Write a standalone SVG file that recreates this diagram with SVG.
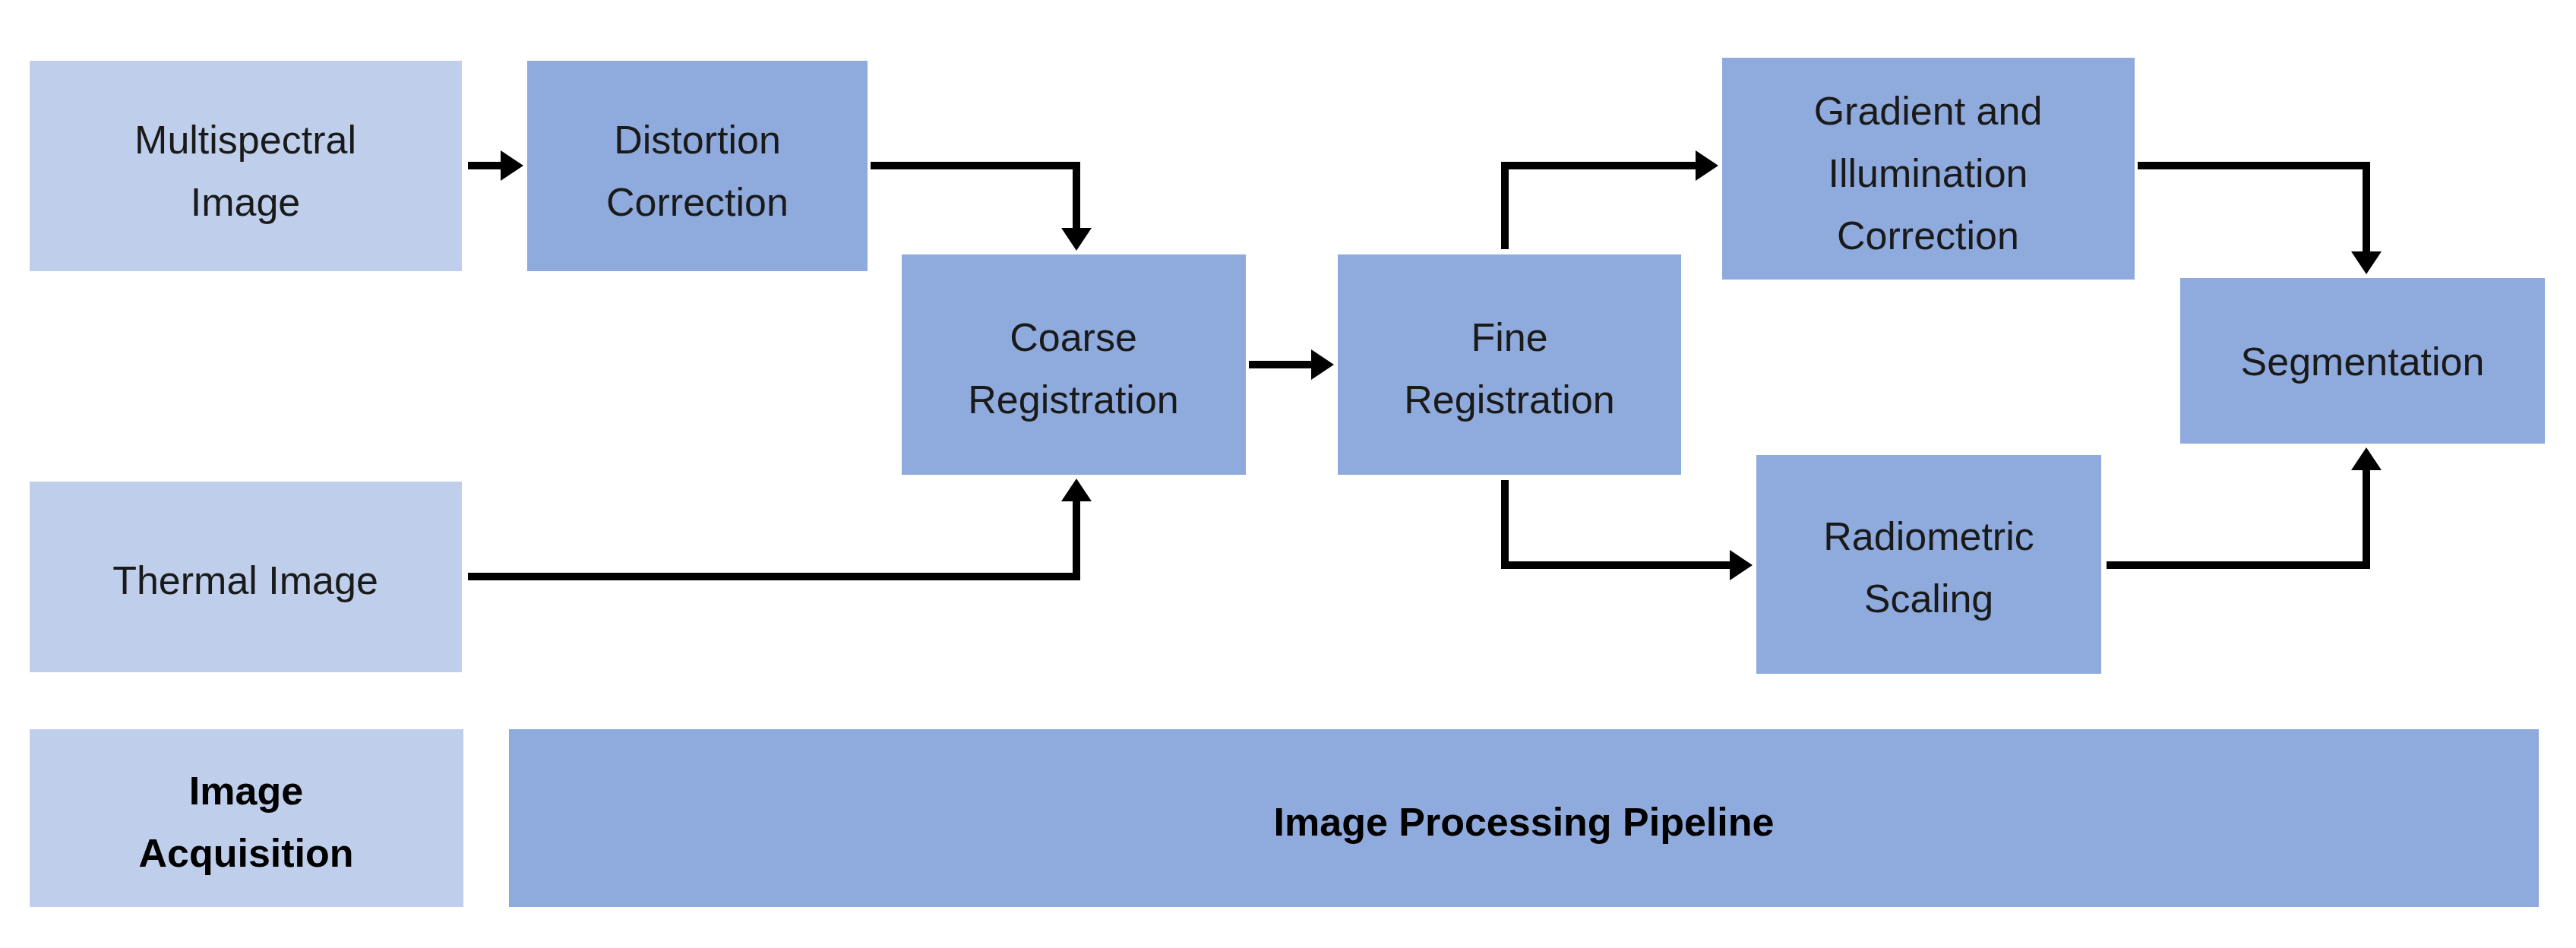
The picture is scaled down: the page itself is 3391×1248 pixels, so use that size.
<svg xmlns="http://www.w3.org/2000/svg" width="3391" height="1248" viewBox="0 0 3391 1248">
<style>
.l{fill:#BFCFEB}.d{fill:#8FAADC}
text{font-family:"Liberation Sans",Arial,sans-serif;font-size:52px;fill:#1a1a1a;text-anchor:middle}
.b{font-weight:bold;fill:#000}
.c{fill:none;stroke:#000;stroke-width:10}
</style>
<defs><marker id="a" markerWidth="4" markerHeight="4" refX="1.5" refY="2" orient="auto" markerUnits="strokeWidth"><path d="M0,0L3,2L0,4z" fill="#000"/></marker></defs>
<rect width="3391" height="1248" fill="#fff"/>
<g id="multispectral"><rect class="l" x="39" y="80" width="569" height="277"/><text x="323" y="202">Multispectral</text><text x="323" y="284">Image</text></g>
<g id="distortion"><rect class="d" x="694" y="80" width="448" height="277"/><text x="918" y="202">Distortion</text><text x="918" y="284">Correction</text></g>
<g id="coarse"><rect class="d" x="1187" y="335" width="453" height="290"/><text x="1413" y="462">Coarse</text><text x="1413" y="544">Registration</text></g>
<g id="thermal"><rect class="l" x="39" y="634" width="569" height="251"/><text x="323" y="782">Thermal Image</text></g>
<g id="fine"><rect class="d" x="1761" y="335" width="452" height="290"/><text x="1987" y="462">Fine</text><text x="1987" y="544">Registration</text></g>
<g id="gradient"><rect class="d" x="2267" y="76" width="543" height="292"/><text x="2538" y="164">Gradient and</text><text x="2538" y="246">Illumination</text><text x="2538" y="328">Correction</text></g>
<g id="segmentation"><rect class="d" x="2870" y="366" width="480" height="218"/><text x="3110" y="494">Segmentation</text></g>
<g id="radiometric"><rect class="d" x="2312" y="599" width="454" height="288"/><text x="2539" y="724">Radiometric</text><text x="2539" y="806">Scaling</text></g>
<g id="acquisition"><rect class="l" x="39" y="960" width="571" height="234"/><text class="b" x="324" y="1059">Image</text><text class="b" x="324" y="1141">Acquisition</text></g>
<g id="pipeline"><rect class="d" x="670" y="960" width="2672" height="234"/><text class="b" x="2006" y="1100">Image Processing Pipeline</text></g>
<g id="connectors">
<path class="c" marker-end="url(#a)" d="M616,218H674"/>
<path class="c" marker-end="url(#a)" d="M1146,218H1417V315"/>
<path class="c" marker-end="url(#a)" d="M616,759H1417V645"/>
<path class="c" marker-end="url(#a)" d="M1644,480H1741"/>
<path class="c" marker-end="url(#a)" d="M1981,328V218H2247"/>
<path class="c" marker-end="url(#a)" d="M1981,632V744H2292"/>
<path class="c" marker-end="url(#a)" d="M2814,218H3115V346"/>
<path class="c" marker-end="url(#a)" d="M2773,744H3115V604"/>
</g>
</svg>
